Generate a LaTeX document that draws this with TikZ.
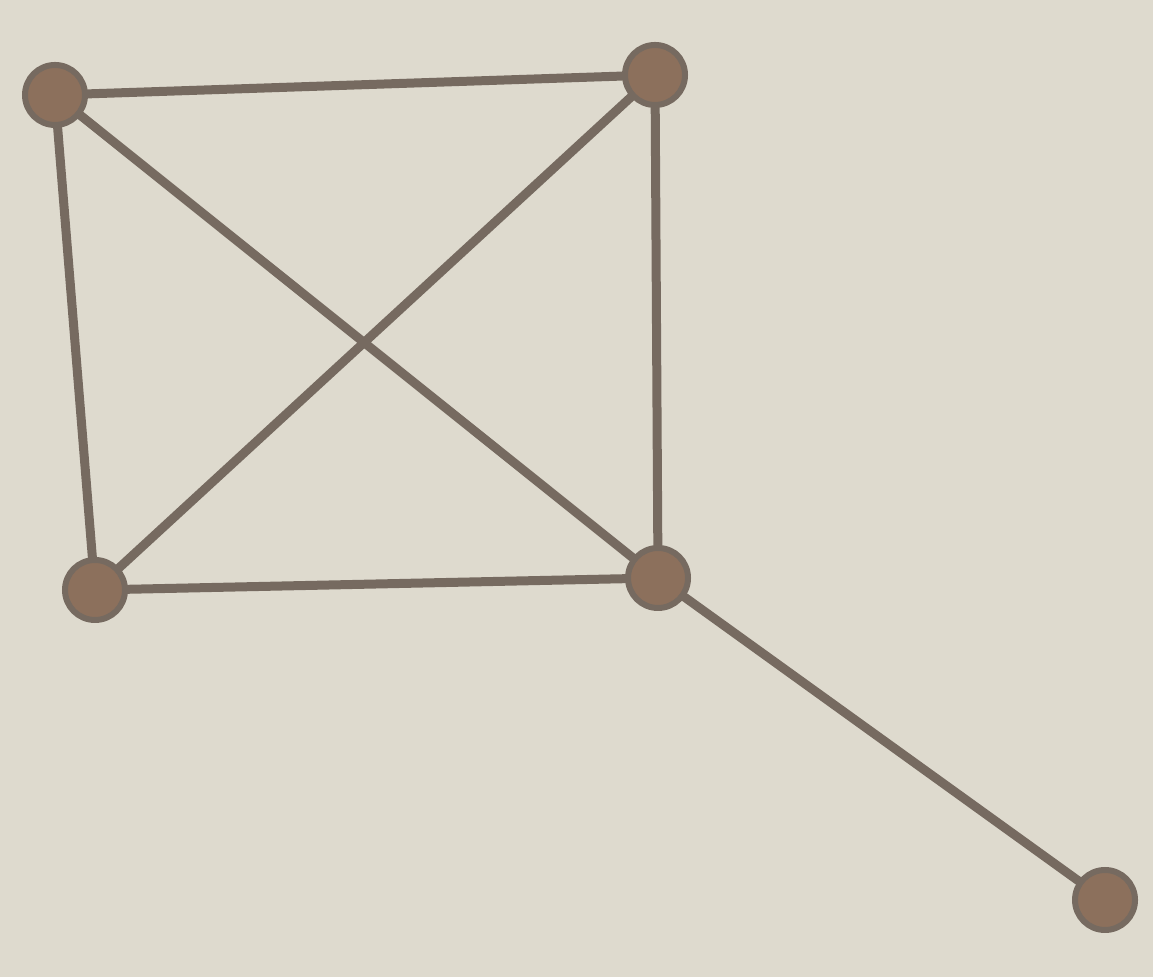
\documentclass[tikz,border=0pt]{standalone}
\usepackage{tikz}

\definecolor{paper}{RGB}{222,218,206}
\definecolor{twine}{RGB}{118,106,96}
\definecolor{knotcol}{RGB}{140,112,92}

\begin{document}
\begin{tikzpicture}[
        knot/.style={circle, draw=twine, line width=0.6mm, fill=knotcol, minimum size=6mm, inner sep=0pt},
        twineline/.style={draw=twine, line width=0.9mm, line cap=round}
    ]
        \fill[paper] (0,0) rectangle (11.53,9.77);

        \node[knot] (tl) at (0.55,8.82) {};
        \node[knot] (tr) at (6.55,9.02) {};
        \node[knot] (bl) at (0.95,3.87) {};
        \node[knot] (br) at (6.58,3.99) {};
        \node[knot] (tail) at (11.05,0.77) {};

        \draw[twineline] (tl) -- (tr);
        \draw[twineline] (tl) -- (bl);
        \draw[twineline] (tl) -- (br);
        \draw[twineline] (tr) -- (bl);
        \draw[twineline] (tr) -- (br);
        \draw[twineline] (bl) -- (br);
        \draw[twineline] (br) -- (tail);
    \end{tikzpicture}
\end{document}
